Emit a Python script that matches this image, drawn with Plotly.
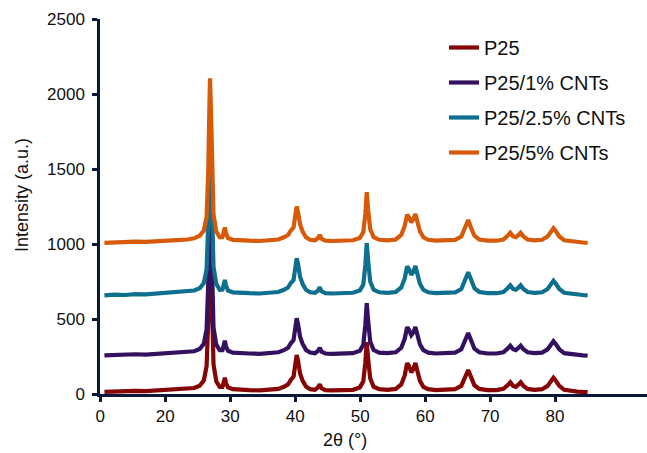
import plotly.graph_objects as go

two_theta = [10, 11.5, 13, 14.5, 16, 17.5, 19, 20.5, 22, 23,
             23.8, 24.4, 24.8, 25.05, 25.2, 25.3, 25.4, 25.55, 25.8, 26.2,
             26.7, 27.1, 27.3, 27.45, 27.6, 27.9, 28.6, 29.5, 31, 32.5,
             34, 35.2, 36.0, 36.6, 37.0, 37.4, 37.65, 37.85, 38.05, 38.35,
             38.7, 39.2, 39.8, 40.5, 40.95, 41.2, 41.45, 42, 43, 44.5,
             46, 47.0, 47.5, 47.8, 48.0, 48.2, 48.5, 49.0, 49.8, 51,
             52.2, 53.0, 53.5, 53.85, 54.1, 54.45, 54.75, 55.05, 55.35, 55.7,
             56.2, 56.9, 58, 59.5, 60.8, 61.7, 62.3, 62.7, 63.1, 63.6,
             64.3, 65.5, 66.8, 67.8, 68.4, 68.8, 69.2, 69.6, 70.0, 70.3,
             70.7, 71.3, 72.3, 73.4, 74.2, 74.7, 75.05, 75.4, 75.9, 76.6,
             77.5, 78.5, 79.3, 80]

p25 = [14, 18, 16, 21, 19, 24, 26, 29, 34, 40,
       55, 90, 185, 500, 900, 1100, 950, 550, 200, 85,
       48, 48, 90, 108, 75, 44, 32, 28, 26, 24,
       26, 34, 48, 64, 94, 116, 196, 260, 220, 135,
       90, 50, 32, 28, 44, 64, 38, 26, 24, 26,
       28, 44, 84, 210, 345, 235, 105, 48, 32, 28,
       34, 64, 124, 205, 190, 145, 165, 207, 150, 88,
       48, 32, 26, 26, 32, 54, 115, 160, 114, 58,
       34, 26, 26, 34, 58, 78, 54, 48, 64, 78,
       54, 34, 28, 32, 54, 94, 108, 88, 54, 28,
       20, 16, 14, 13]

p25_1 = [258, 262, 260, 265, 263, 268, 270, 273, 278, 285,
         300, 335, 430, 750, 1150, 1350, 1200, 800, 445, 330,
         292, 292, 335, 355, 320, 288, 276, 272, 270, 268,
         270, 278, 292, 308, 338, 360, 440, 505, 465, 380,
         335, 294, 276, 272, 288, 308, 282, 270, 268, 270,
         272, 288, 328, 460, 605, 490, 350, 293, 276, 272,
         278, 308, 368, 445, 430, 392, 410, 447, 396, 332,
         293, 276, 270, 270, 276, 298, 360, 407, 360, 302,
         278, 270, 270, 278, 302, 322, 298, 292, 308, 322,
         298, 278, 272, 276, 298, 338, 352, 332, 298, 272,
         265, 260, 258, 256]

p25_2_5 = [658, 663, 660, 666, 664, 670, 672, 676, 682, 690,
           705, 740, 830, 1150, 1550, 1760, 1600, 1200, 850, 735,
           695, 696, 740, 760, 725, 690, 678, 674, 672, 670,
           672, 680, 695, 710, 740, 760, 840, 905, 865, 780,
           735, 695, 678, 674, 690, 712, 685, 672, 670, 672,
           675, 690, 730, 860, 1005, 890, 750, 695, 678, 674,
           680, 710, 770, 850, 835, 795, 815, 853, 800, 735,
           695, 678, 672, 672, 678, 700, 765, 812, 765, 705,
           680, 672, 672, 680, 705, 725, 700, 695, 710, 725,
           700, 680, 674, 678, 700, 740, 755, 735, 700, 675,
           668, 662, 660, 658]

p25_5 = [1008, 1012, 1010, 1016, 1014, 1020, 1022, 1026, 1030, 1038,
         1055, 1090, 1180, 1500, 1900, 2105, 1950, 1550, 1200, 1085,
         1045, 1045, 1090, 1110, 1075, 1040, 1028, 1024, 1022, 1020,
         1022, 1030, 1045, 1060, 1090, 1110, 1190, 1250, 1210, 1130,
         1085, 1045, 1028, 1024, 1040, 1060, 1035, 1022, 1020, 1022,
         1025, 1040, 1080, 1200, 1345, 1230, 1100, 1045, 1028, 1024,
         1030, 1060, 1120, 1195, 1180, 1145, 1165, 1200, 1150, 1085,
         1045, 1028, 1022, 1022, 1028, 1050, 1110, 1160, 1110, 1055,
         1030, 1022, 1022, 1030, 1055, 1075, 1050, 1045, 1060, 1075,
         1050, 1030, 1024, 1028, 1050, 1090, 1105, 1085, 1050, 1025,
         1018, 1012, 1010, 1008]

series_names = ["P25", "P25/1% CNTs", "P25/2.5% CNTs", "P25/5% CNTs"]
series_values = [p25, p25_1, p25_2_5, p25_5]
series_colors = ["#860606", "#33115f", "#0f6f8f", "#d65a08"]

x_tick_vals = [9.41, 18.82, 28.23, 37.64, 47.05, 56.46, 65.87, 75.28]
x_tick_text = ["0", "20", "30", "40", "50", "60", "70", "80"]
y_tick_vals = [0, 500, 1000, 1500, 2000, 2500]

FONT = "Liberation Sans, Arial, sans-serif"
AXIS = "#0c1838"

fig = go.Figure()
for i, (name, vals, col) in enumerate(zip(series_names, series_values, series_colors)):
    fig.add_trace(go.Scatter(
        x=two_theta, y=vals, mode="lines", name=name,
        legendgroup=f"g{i}",
        line=dict(color=col, width=4.2),
    ))

fig.update_layout(
    width=647, height=453, autosize=False,
    margin=dict(l=100, r=0, t=19, b=59, autoexpand=False),
    paper_bgcolor="white", plot_bgcolor="white",
    font=dict(family=FONT, size=17, color="#111111"),
    showlegend=True,
    legend=dict(
        x=(444 - 100) / 547, y=(394 - 28) / 375, xanchor="left", yanchor="top",
        bgcolor="rgba(0,0,0,0)", font=dict(size=20, color="#111111"),
        tracegroupgap=6, traceorder="grouped",
    ),
    xaxis=dict(
        range=[9.36, 88.6], domain=[0, 1], tickmode="array", tickvals=x_tick_vals,
        ticktext=x_tick_text,
        showline=True, linecolor=AXIS, linewidth=2.5, ticks="outside", ticklen=5,
        tickwidth=2.5, tickcolor=AXIS, showgrid=False, zeroline=False,
        tickfont=dict(size=17, color="#111111"),
    ),
    yaxis=dict(
        range=[0, 2500], tickmode="array", tickvals=y_tick_vals,
        showline=True, linecolor=AXIS, linewidth=2.5, ticks="outside", ticklen=5,
        tickwidth=2.5, tickcolor=AXIS, showgrid=False, zeroline=False,
        tickfont=dict(size=17, color="#111111"), ticklabelstandoff=4,
    ),
    annotations=[
        dict(text="2θ (°)", xref="paper", yref="paper",
             x=(345 - 100) / 547, y=(394 - 440) / 375, xanchor="center", yanchor="middle",
             showarrow=False, font=dict(size=18, color="#111111")),
        dict(text="Intensity (a.u.)", xref="paper", yref="paper", textangle=-90,
             x=(22 - 100) / 547, y=(394 - 195) / 375, xanchor="center", yanchor="middle",
             showarrow=False, font=dict(size=18, color="#111111")),
    ],
)

fig.write_html("out.html")
